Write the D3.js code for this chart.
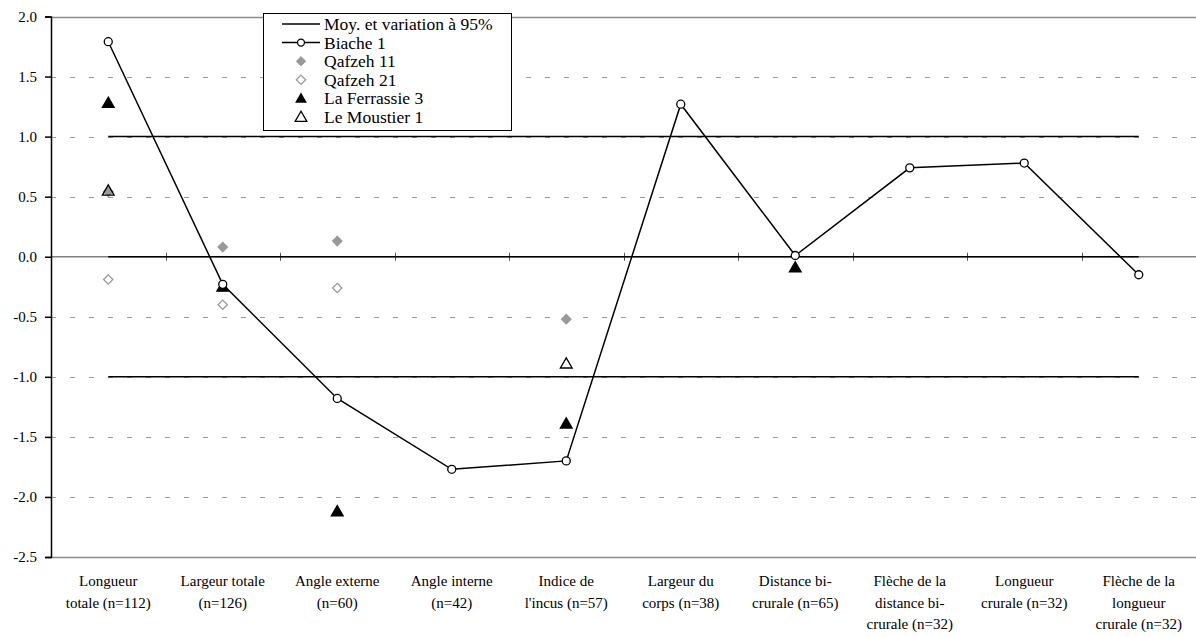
<!DOCTYPE html>
<html>
<head>
<meta charset="utf-8">
<script src="https://cdn.jsdelivr.net/npm/d3@7"></script>
<style>
  body { margin: 0; background: #fff; }
  svg text { font-family: "Times New Roman", Tinos, "Liberation Serif", "DejaVu Serif", serif; }
</style>
</head>
<body>
<svg id="chart"></svg>
<script>
// Categories (labels split on lines)
const categories = [
    ["Longueur", "totale (n=112)"],
    ["Largeur totale", "(n=126)"],
    ["Angle externe", "(n=60)"],
    ["Angle interne", "(n=42)"],
    ["Indice de", "l'incus (n=57)"],
    ["Largeur du", "corps (n=38)"],
    ["Distance bi-", "crurale (n=65)"],
    ["Flèche de la", "distance bi-", "crurale (n=32)"],
    ["Longueur", "crurale (n=32)"],
    ["Flèche de la", "longueur", "crurale (n=32)"]
];

// Series values (z-scores)
const biache1      = [1.79, -0.23, -1.18, -1.77, -1.70, 1.27, 0.01, 0.74, 0.78, -0.15];
const qafzeh11     = [0.54, 0.08, 0.13, null, -0.52, null, null, null, null, null];
const qafzeh21     = [-0.19, -0.40, -0.26, null, null, null, null, null, null, null];
const laFerrassie3 = [1.28, -0.25, -2.12, null, -1.39, null, -0.09, null, null, null];
const leMoustier1  = [0.55, null, null, null, -0.89, null, null, null, null, null];

// Mean and 95% variation
const meanLines = [1, 0, -1];
const yTicks = [2.0, 1.5, 1.0, 0.5, 0.0, -0.5, -1.0, -1.5, -2.0, -2.5];

const legendItems = ["Moy. et variation à 95%", "Biache 1", "Qafzeh 11", "Qafzeh 21", "La Ferrassie 3", "Le Moustier 1"];

const FONT = "'Times New Roman', Tinos, 'Liberation Serif', 'DejaVu Serif', serif";
const W = 1196, H = 637;
const margin = { top: 16.5, right: 0, bottom: 80, left: 51 };

const svg = d3.select("#chart").attr("width", W).attr("height", H);

const idx = categories.map((d, i) => i);

const x = d3.scaleBand()
    .domain(idx)
    .range([margin.left, W - margin.right]);

const y = d3.scaleLinear()
    .domain([-2.5, 2.0])
    .range([557, margin.top]);

const cx = i => x(i) + x.bandwidth() / 2;

// Dashed gridlines
svg.append("g")
    .selectAll("line")
    .data(yTicks.filter(d => d !== 2.0 && d !== -2.5 && d !== 0))
    .enter().append("line")
    .attr("x1", margin.left)
    .attr("x2", W - margin.right)
    .attr("y1", d => Math.round(y(d)) + 0.5)
    .attr("y2", d => Math.round(y(d)) + 0.5)
    .attr("stroke", "#9a9a9a")
    .attr("stroke-dasharray", "5,14")
    .attr("stroke-dashoffset", -19);

// Top and bottom borders
[2.0, -2.5].forEach(v => {
    svg.append("line")
        .attr("x1", margin.left).attr("x2", W - margin.right)
        .attr("y1", Math.round(y(v)) + 0.5).attr("y2", Math.round(y(v)) + 0.5)
        .attr("stroke", "#8c8c8c").attr("stroke-width", 1.5);
});

// Category axis at zero
svg.append("line")
    .attr("x1", margin.left).attr("x2", W - margin.right)
    .attr("y1", y(0)).attr("y2", y(0))
    .attr("stroke", "#808080").attr("stroke-width", 1.5);

svg.append("g")
    .selectAll("line")
    .data(idx.slice(1))
    .enter().append("line")
    .attr("x1", d => Math.round(x(d)) + 0.5)
    .attr("x2", d => Math.round(x(d)) + 0.5)
    .attr("y1", y(0) - 4)
    .attr("y2", y(0) + 4)
    .attr("stroke", "#555");

// Mean and +/- lines
svg.append("g")
    .selectAll("line")
    .data(meanLines)
    .enter().append("line")
    .attr("x1", cx(0))
    .attr("x2", cx(categories.length - 1))
    .attr("y1", d => y(d))
    .attr("y2", d => y(d))
    .attr("stroke", "#000")
    .attr("stroke-width", 1.5);

// Y axis
const yAxis = svg.append("g")
    .attr("transform", "translate(" + margin.left + ",0)")
    .call(d3.axisLeft(y).tickValues(yTicks).tickSize(6).tickPadding(8).tickFormat(d3.format(".1f")));
yAxis.attr("font-family", FONT);
yAxis.select(".domain").attr("stroke", "#000").attr("stroke-width", 1.5);
yAxis.selectAll(".tick line").attr("stroke", "#000").attr("stroke-width", 1.5);
yAxis.selectAll("text")
    .attr("font-size", 15)
    .attr("font-family", FONT)
    .attr("fill", "#000")
    .text(d => d3.format(".1f")(d).replace("−", "-"));

// X labels
const xl = svg.append("g").attr("font-family", FONT);
categories.forEach((lines, i) => {
    const t = xl.append("text")
        .attr("x", cx(i))
        .attr("y", 586)
        .attr("text-anchor", "middle")
        .attr("font-size", 15)
        .attr("font-family", FONT)
        .attr("fill", "#000");
    lines.forEach((s, j) => {
        t.append("tspan").attr("x", cx(i)).attr("dy", j === 0 ? 0 : 21.5).text(s);
    });
});

// Biache line
const line = d3.line()
    .x((d, i) => cx(i))
    .y(d => y(d));

svg.append("path")
    .datum(biache1)
    .attr("d", line)
    .attr("fill", "none")
    .attr("stroke", "#000")
    .attr("stroke-width", 1.5);

// Marker helpers
const diamond = d3.symbol().type(d3.symbolDiamond2).size(55);
const triangle = d3.symbol().type(d3.symbolTriangle).size(60);

function drawPoints(values, sym, fill, stroke, dy) {
    svg.append("g")
        .selectAll("path")
        .data(values.map((v, i) => ({ v, i })).filter(d => d.v !== null))
        .enter().append("path")
        .attr("d", sym)
        .attr("transform", d => "translate(" + cx(d.i) + "," + (y(d.v) + dy) + ")")
        .attr("fill", fill)
        .attr("stroke", stroke)
        .attr("stroke-width", 1.3);
}

drawPoints(qafzeh21, diamond, "#fff", "#999", 0);
drawPoints(qafzeh11, diamond, "#999", "#999", 0);
drawPoints(leMoustier1, triangle, "none", "#000", 1);
drawPoints(laFerrassie3, triangle, "#000", "#000", 1);

// Biache markers
svg.append("g")
    .selectAll("circle")
    .data(biache1)
    .enter().append("circle")
    .attr("cx", (d, i) => cx(i))
    .attr("cy", d => y(d))
    .attr("r", 4)
    .attr("fill", "#fff")
    .attr("stroke", "#000")
    .attr("stroke-width", 1.3);

// Legend
const lg = svg.append("g");
lg.append("rect")
    .attr("x", 263.5).attr("y", 13.5)
    .attr("width", 248).attr("height", 117)
    .attr("fill", "#fff").attr("stroke", "#000");

legendItems.forEach((name, i) => {
    const ly = 24 + i * 18.6;
    if (i === 0 || i === 1) {
        lg.append("line").attr("x1", 282).attr("x2", 320).attr("y1", ly).attr("y2", ly)
            .attr("stroke", "#000").attr("stroke-width", 1.5);
    }
    const t = "translate(301," + ly + ")";
    if (i === 1) lg.append("circle").attr("cx", 301).attr("cy", ly).attr("r", 3.5).attr("fill", "#fff").attr("stroke", "#000").attr("stroke-width", 1.3);
    if (i === 2) lg.append("path").attr("d", diamond).attr("transform", t).attr("fill", "#999").attr("stroke", "#999");
    if (i === 3) lg.append("path").attr("d", diamond).attr("transform", t).attr("fill", "#fff").attr("stroke", "#999").attr("stroke-width", 1.3);
    if (i === 4) lg.append("path").attr("d", triangle).attr("transform", "translate(301," + (ly + 1) + ")").attr("fill", "#000");
    if (i === 5) lg.append("path").attr("d", triangle).attr("transform", "translate(301," + (ly + 1) + ")").attr("fill", "none").attr("stroke", "#000").attr("stroke-width", 1.3);
    lg.append("text")
        .attr("x", 324).attr("y", ly + 6)
        .attr("font-size", 17.5)
        .attr("font-family", FONT)
        .attr("fill", "#000")
        .text(name);
});
</script>
</body>
</html>
